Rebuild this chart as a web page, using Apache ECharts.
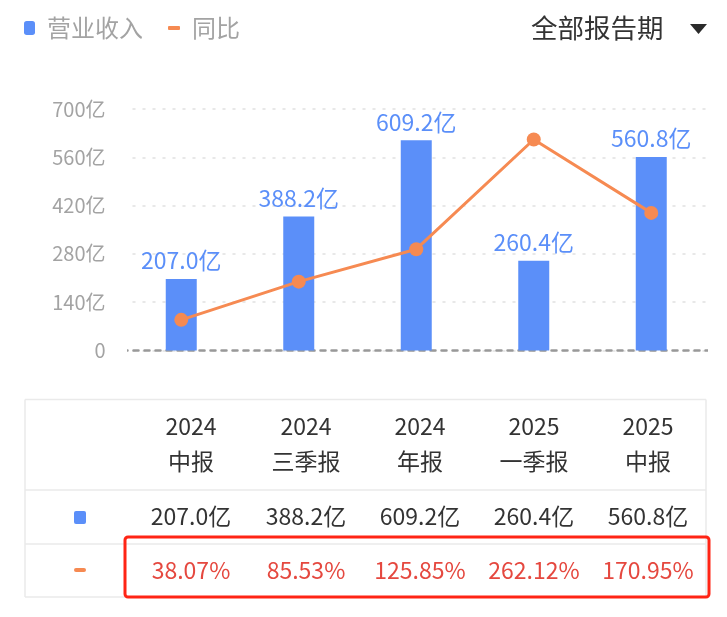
<!DOCTYPE html>
<html><head><meta charset="utf-8">
<style>html,body{margin:0;padding:0;background:#fff}#c{width:727px;height:617px}</style>
<script src="https://cdn.jsdelivr.net/npm/echarts@6/dist/echarts.min.js"></script>
</head><body><div id="c"></div>
<script>
const headYears = ['2024','2024','2024','2025','2025'];
const headPeriods = ['中报','三季报','年报','一季报','中报'];
const revenue = [207.0,388.2,609.2,260.4,560.8];
const yoy = [38.07,85.53,125.85,262.12,170.95];
const categories = headYears.map((y,i)=>y+headPeriods[i]);
const BLUE='#5B8FF9', ORANGE='#F68A52', GREY='#A3A3A3', FONT='"Noto Sans CJK SC","Noto Sans",sans-serif';
const colX=[191,306,420,534,648];
const g=[];
const txt=(x,y,t,fill,size,align)=>g.push({type:'text',x,y,style:{text:t,fill,font:`${size}px ${FONT}`,align:align||'center',verticalAlign:'middle'}});
const hline=(y,x1,x2)=>g.push({type:'line',shape:{x1,y1:y,x2,y2:y},style:{stroke:'#EAEAEA',lineWidth:1.5}});
const vline=(x,y1,y2)=>g.push({type:'line',shape:{x1:x,y1,x2:x,y2},style:{stroke:'#EAEAEA',lineWidth:1.5}});
[399.5,490,544,597].forEach(y=>hline(y,25,706));
vline(25,399.5,597);vline(706,399.5,597);
colX.forEach((x,i)=>{
  txt(x,426,headYears[i],'#333',23);
  txt(x,461,headPeriods[i],'#333',23);
  txt(x,516,revenue[i].toFixed(1)+'亿','#333',23);
  txt(x,570,yoy[i].toFixed(2)+'%','#E5483F',23);
});
g.push({type:'rect',shape:{x:74,y:511,width:12,height:13,r:2},style:{fill:BLUE}});
g.push({type:'rect',shape:{x:74,y:568,width:12,height:4,r:2},style:{fill:ORANGE}});
g.push({type:'rect',z:10,shape:{x:125,y:537,width:584,height:60,r:3},style:{fill:'none',stroke:'#FF2415',lineWidth:3}});
txt(531,28,'全部报告期','#333',26.5,'left');
g.push({type:'polygon',shape:{points:[[690,24],[707,24],[698.5,34]]},style:{fill:'#2b2b2b'}});
// trims the axis and grid rules to the reference's span
g.push({type:'rect',z:5,shape:{x:118,y:100,width:9,height:255},style:{fill:'#fff'}});
g.push({type:'rect',z:5,shape:{x:708,y:100,width:6,height:255},style:{fill:'#fff'}});
const chart=echarts.init(document.getElementById('c'),null,{renderer:'canvas'});
chart.setOption({
  animation:false,
  backgroundColor:'#fff',
  textStyle:{fontFamily:FONT},
  legend:[
    {data:['营业收入'],left:19,top:11,icon:'roundRect',itemWidth:11,itemHeight:14,textStyle:{color:GREY,fontSize:24,fontFamily:FONT,padding:[0,0,0,7]}},
    {data:['同比'],left:163,top:11,icon:'roundRect',itemWidth:12,itemHeight:4,textStyle:{color:GREY,fontSize:24,fontFamily:FONT,padding:[0,0,0,7]}}
  ],
  grid:{left:122.5,right:17,top:109,bottom:266.5},
  xAxis:{type:'category',data:categories,
    axisLine:{show:true,lineStyle:{color:'#999',width:2.5,type:[5,6]}},
    axisTick:{show:false},axisLabel:{show:false}},
  yAxis:[
    {type:'value',min:0,max:700,interval:140,
      axisLine:{show:false},axisTick:{show:false},
      axisLabel:{color:GREY,fontSize:20,fontFamily:FONT,margin:17,formatter:v=>v===0?'0':v+'亿'},
      splitLine:{lineStyle:{color:'#E8E8E8',width:2,type:[3,7]}}},
    {type:'value',min:0,max:300,show:false,splitLine:{show:false}}
  ],
  series:[
    {name:'营业收入',type:'bar',data:revenue,barWidth:31,yAxisIndex:0,
      itemStyle:{color:BLUE},
      label:{show:true,position:'top',distance:7,color:BLUE,fontSize:23,fontFamily:FONT,formatter:p=>p.value.toFixed(1)+'亿'}},
    {name:'同比',type:'line',data:yoy,yAxisIndex:1,symbol:'circle',symbolSize:14,
      itemStyle:{color:ORANGE},lineStyle:{color:ORANGE,width:3}}
  ],
  graphic:g
});
</script></body></html>
